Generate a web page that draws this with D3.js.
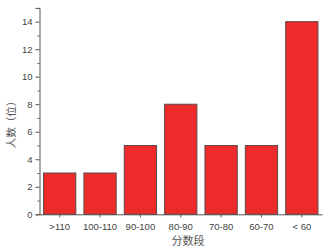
<!DOCTYPE html>
<html>
<head>
<meta charset="utf-8">
<script src="https://cdn.jsdelivr.net/npm/d3@7"></script>
<style>
  body { margin: 0; background: #fff; }
  svg text { font-family: "Liberation Sans", Arial, sans-serif; fill: #444; }
</style>
</head>
<body>
<svg id="chart" width="329" height="250"></svg>
<script>
// data
const categories = [">110", "100-110", "90-100", "80-90", "70-80", "60-70", "< 60"]
const counts = [3, 3, 5, 8, 5, 5, 14]
const yTicks = [0, 2, 4, 6, 8, 10, 12, 14]
const yMinorTicks = [1, 3, 5, 7, 9, 11, 13, 15]

let dims = { left: 39.5, right: 322, top: 7.9, bottom: 214.3 }
let svg = d3.select("#chart")

let x = d3.scaleBand()
  .domain(categories)
  .range([dims.left, dims.right])
  .paddingInner(0.2)
  .paddingOuter(0.1)
let y = d3.scaleLinear().domain([0, 15]).range([dims.bottom, dims.top])

// bars
svg.append("g").selectAll("rect")
  .data(categories.map((c, i) => ({ cat: c, n: counts[i] })))
  .join("rect")
  .attr("x", d => x(d.cat))
  .attr("y", d => y(d.n))
  .attr("width", x.bandwidth())
  .attr("height", d => y(0) - y(d.n))
  .attr("fill", "#ee2b2b")
  .attr("stroke", "#5a4a4a")
  .attr("stroke-width", 1)

// y axis, major + minor ticks
let gy = svg.append("g").attr("transform", `translate(${dims.left},0)`)
gy.call(d3.axisLeft(y).tickValues(yTicks).tickSize(4).tickPadding(3).tickFormat(d3.format("d")))
gy.append("g").call(d3.axisLeft(y).tickValues(yMinorTicks).tickSize(2).tickFormat(""))
  .select(".domain").remove()
gy.selectAll("text").attr("font-size", 9.5).style("fill", "#444")
gy.selectAll("line, path").attr("stroke", "#555")

// x axis
let gx = svg.append("g").attr("transform", `translate(0,${dims.bottom})`)
gx.call(d3.axisBottom(x).tickSize(3).tickPadding(6).tickSizeOuter(0))
gx.selectAll("text").attr("font-size", 9.5).style("fill", "#444")
gx.selectAll("line, path").attr("stroke", "#555")

// axis titles
svg.append("text")
  .attr("transform", "translate(15,122) rotate(-90)")
  .attr("text-anchor", "middle")
  .attr("font-size", 10.5)
  .style("font-family", "'Noto Sans CJK SC', sans-serif")
  .style("fill", "#555")
  .text("人数（位）")
svg.append("text")
  .attr("x", 188)
  .attr("y", 245)
  .attr("text-anchor", "middle")
  .attr("font-size", 11)
  .style("font-family", "'Noto Sans CJK SC', sans-serif")
  .style("fill", "#555")
  .text("分数段")
</script>
</body>
</html>
